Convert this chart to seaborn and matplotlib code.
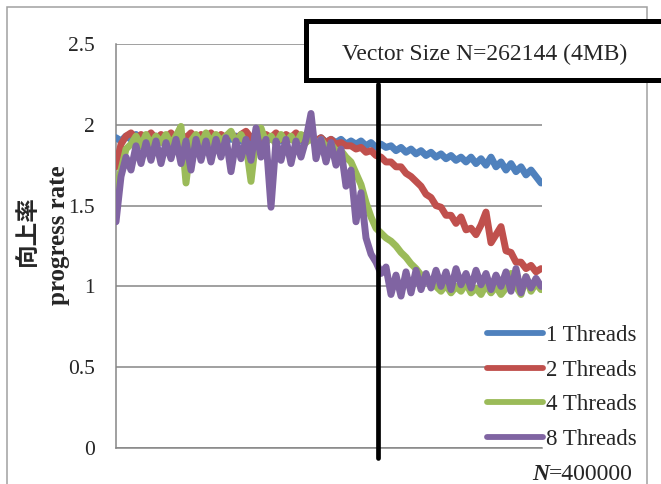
import numpy as np
import pandas as pd
import matplotlib.pyplot as plt
import seaborn as sns
from matplotlib.patches import Rectangle

sns.set_style("white")
plt.rcParams['font.family'] = ['Liberation Serif', 'Noto Sans CJK JP']

# ------------------------------
# Data (one value per sample)
# ------------------------------
series_names = ["1 Threads", "2 Threads", "4 Threads", "8 Threads"]
series_colors = ["#4F81BD", "#C0504D", "#9BBB59", "#8064A2"]

rate_1 = [
    1.92, 1.90, 1.93, 1.91, 1.94, 1.90, 1.92, 1.91, 1.93, 1.90,
    1.92, 1.91, 1.93, 1.90, 1.92, 1.91, 1.92, 1.90, 1.93, 1.91,
    1.92, 1.90, 1.92, 1.91, 1.93, 1.90, 1.92, 1.91, 1.92, 1.90,
    1.92, 1.91, 1.93, 1.90, 1.92, 1.91, 1.92, 1.90, 1.92, 1.91,
    1.90, 1.92, 1.89, 1.91, 1.89, 1.91, 1.88, 1.90, 1.88, 1.90,
    1.87, 1.89, 1.86, 1.88, 1.86, 1.87, 1.84, 1.86, 1.83, 1.85,
    1.82, 1.84, 1.81, 1.83, 1.80, 1.82, 1.79, 1.81, 1.78, 1.80,
    1.77, 1.80, 1.76, 1.79, 1.75, 1.80, 1.74, 1.77, 1.72, 1.76,
    1.71, 1.74, 1.69, 1.72, 1.68, 1.64,
]
rate_2 = [
    1.74, 1.88, 1.93, 1.95, 1.91, 1.94, 1.92, 1.95, 1.91, 1.94,
    1.92, 1.95, 1.91, 1.94, 1.92, 1.95, 1.91, 1.94, 1.92, 1.95,
    1.91, 1.94, 1.92, 1.95, 1.91, 1.94, 1.96, 1.92, 1.94, 1.91,
    1.94, 1.92, 1.95, 1.91, 1.94, 1.92, 1.95, 1.91, 1.94, 1.92,
    1.90, 1.92, 1.89, 1.91, 1.88, 1.89, 1.87, 1.87, 1.85, 1.86,
    1.83, 1.84, 1.81, 1.80, 1.77, 1.77, 1.74, 1.74, 1.70, 1.68,
    1.65, 1.62, 1.57, 1.55, 1.50, 1.49, 1.44, 1.44, 1.39, 1.43,
    1.35, 1.36, 1.32, 1.38, 1.46, 1.27, 1.32, 1.37, 1.22, 1.21,
    1.15, 1.15, 1.11, 1.13, 1.09, 1.11,
]
rate_4 = [
    1.60, 1.72, 1.85, 1.88, 1.93, 1.87, 1.94, 1.88, 1.93, 1.89,
    1.94, 1.88, 1.93, 1.99, 1.64, 1.90, 1.94, 1.88, 1.95, 1.89,
    1.94, 1.90, 1.93, 1.96, 1.89, 1.94, 1.88, 1.65, 1.92, 1.98,
    1.89, 1.93, 1.88, 1.94, 1.89, 1.93, 1.88, 1.94, 1.89, 1.92,
    1.87, 1.91, 1.86, 1.88, 1.84, 1.84, 1.80, 1.77, 1.70, 1.63,
    1.52, 1.43, 1.36, 1.33, 1.30, 1.28, 1.25, 1.21, 1.18, 1.14,
    1.11, 1.07, 1.05, 1.01, 1.00, 0.97, 1.01, 0.96, 1.00, 0.97,
    1.02, 0.96, 0.99, 0.95, 1.01, 0.96, 1.00, 0.95, 0.99, 1.08,
    1.00, 0.95, 1.06, 0.97, 1.02, 0.98,
]
rate_8 = [
    1.40, 1.68, 1.80, 1.72, 1.87, 1.76, 1.89, 1.78, 1.90, 1.76,
    1.89, 1.79, 1.91, 1.76, 1.90, 1.72, 1.91, 1.78, 1.90, 1.77,
    1.91, 1.80, 1.92, 1.71, 1.90, 1.79, 1.91, 1.78, 1.98, 1.80,
    1.91, 1.49, 1.90, 1.78, 1.91, 1.76, 1.90, 1.80, 1.91, 2.07,
    1.79, 1.91, 1.77, 1.89, 1.75, 1.85, 1.62, 1.72, 1.40, 1.58,
    1.30, 1.20, 1.15, 1.08, 1.12, 0.95, 1.07, 0.94, 1.09, 0.96,
    1.10, 0.98, 1.08, 0.99, 1.10, 1.00, 1.09, 0.98, 1.11, 1.01,
    1.08, 0.99, 1.10, 1.01, 1.08, 0.98, 1.07, 1.00, 1.09, 0.97,
    1.11, 0.96, 1.06, 0.99, 1.05, 1.00,
]

y_ticks = [0, 0.5, 1, 1.5, 2, 2.5]
y_tick_labels = ["0", "0.5", "1", "1.5", "2", "2.5"]

# sample position of the 4MB vector size marker
vector_idx = 52.4

frames = []
for name, vals in zip(series_names, [rate_1, rate_2, rate_4, rate_8]):
    frames.append(pd.DataFrame({"idx": np.arange(len(vals)), "rate": vals, "series": name}))
df = pd.concat(frames, ignore_index=True)

# ------------------------------
# Figure
# ------------------------------
W, H = 661, 484
fig = plt.figure(figsize=(W / 100, H / 100), dpi=100)

# outer chart frame
fig.patches.append(Rectangle((7 / W, -0.05), 640 / W, 1.05 - 7 / H, transform=fig.transFigure,
                             fill=False, edgecolor="#A0A0A0", linewidth=1.1, zorder=0))

ax = fig.add_axes([116 / W, 1 - 448 / H, 426 / W, 404 / H])

sns.lineplot(
    data=df, x="idx", y="rate", hue="series", hue_order=series_names,
    palette=dict(zip(series_names, series_colors)),
    linewidth=5.0, estimator=None, sort=False, ax=ax, zorder=3,
)
for ln in ax.get_lines():
    ln.set_solid_capstyle("round")
    ln.set_solid_joinstyle("round")

ax.set_xlim(0, 85.2)
ax.set_ylim(0, 2.5)
ax.set_yticks(y_ticks)
ax.set_yticklabels(y_tick_labels, fontsize=15.5)
ax.set_xticks([])
ax.tick_params(axis="y", length=0, pad=15)
ax.set_xlabel("")
ax.set_ylabel("")
ax.grid(True, axis="y", color="#868686", linewidth=1.1)
ax.set_axisbelow(True)
for side in ["top", "right"]:
    ax.spines[side].set_visible(False)
for side in ["left", "bottom"]:
    ax.spines[side].set_color("#868686")
    ax.spines[side].set_linewidth(1.1)

ax.axvline(vector_idx, ymin=-0.025, ymax=0.9, color="black", linewidth=3.4, clip_on=False, zorder=5)

leg = ax.legend(
    loc="upper left", bbox_to_anchor=(487 / W, 1 - 325 / H), bbox_transform=fig.transFigure,
    frameon=False, fontsize=16.5, handlelength=2.45, handletextpad=0.12,
    labelspacing=0.59, borderpad=0, borderaxespad=0,
)
for h in leg.get_lines():
    h.set_linewidth(4.2)
    h.set_solid_capstyle("round")

# annotation box
fig.patches.append(Rectangle((305.5 / W, 1 - 80 / H), 400 / W, 58.5 / H, transform=fig.transFigure,
                             facecolor="white", edgecolor="black", linewidth=3.6, zorder=10))
fig.text(485 / W, 1 - 54 / H, "Vector Size N=262144 (4MB)", ha="center", va="center",
         fontsize=17, zorder=11)

# axis titles
fig.text(27 / W, 1 - 231 / H, "向上率", rotation=90, ha="center", va="center",
         fontsize=17, fontweight="bold", family=["Noto Sans CJK JP"])
fig.text(58 / W, 1 - 235 / H, "progress rate", rotation=90, ha="center", va="center",
         fontsize=18, fontweight="bold")

fig.text(532 / W, 1 - 474 / H, "N", ha="left", va="center", fontsize=17,
         fontweight="bold", fontstyle="italic")
fig.text(549 / W, 1 - 474 / H, "=400000", ha="left", va="center", fontsize=17)

fig.savefig("out.png", dpi=100)
